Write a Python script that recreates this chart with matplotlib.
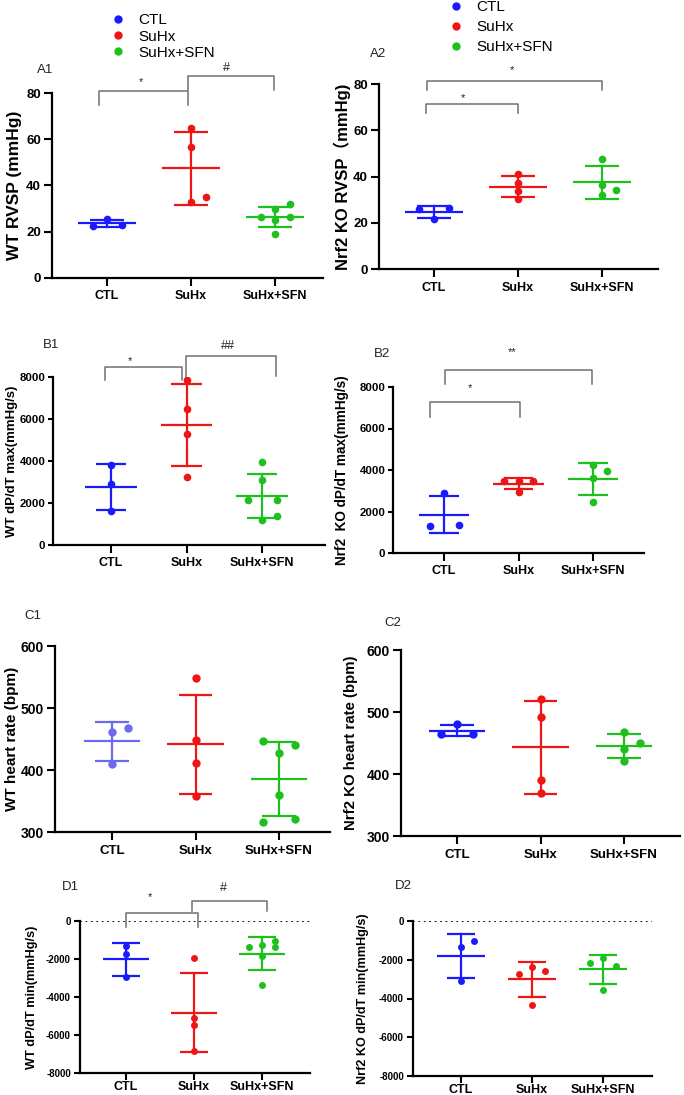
import numpy as np
import matplotlib
matplotlib.use("Agg")
import matplotlib.pyplot as plt
from matplotlib.lines import Line2D

plt.rcParams['font.family'] = ['Liberation Sans', 'Noto Sans CJK SC', 'DejaVu Sans']

# ---------------- data ----------------
groups = ["CTL", "SuHx", "SuHx+SFN"]
colors = ["#1a1aff", "#f01515", "#1ec01e"]
ctl_light = "#6b6bf0"

# A1: WT RVSP (mmHg)
a1_ctl = [22.5, 23.0, 25.5]
a1_suhx = [65.0, 56.5, 33.0, 35.0]
a1_sfn = [25.0, 26.5, 26.5, 29.8, 19.0, 31.8]
# A2: Nrf2 KO RVSP
a2_ctl = [21.8, 25.9, 26.2]
a2_suhx = [41.2, 37.2, 33.9, 30.3]
a2_sfn = [47.6, 36.2, 31.9, 34.0]
# B1: WT dP/dT max
b1_ctl = [3794, 2905, 1603]
b1_suhx = [7841, 6476, 5302, 3238]
b1_sfn = [3937, 3111, 2127, 2127, 1206, 1397]
# B2: Nrf2 KO dP/dT max
b2_ctl = [2880, 1312, 1344]
b2_suhx = [3472, 3472, 3472, 2960]
b2_sfn = [4240, 3936, 3632, 2480]
# C1: WT heart rate
c1_ctl = [460.5, 468.5, 410.0]
c1_suhx = [548.0, 449.0, 411.0, 358.5]
c1_sfn = [446.0, 441.0, 428.0, 360.0, 315.6, 321.5]
# C2: Nrf2 KO heart rate
c2_ctl = [479.9, 464.3, 465.3]
c2_suhx = [520.8, 491.7, 390.0, 369.5]
c2_sfn = [467.0, 450.8, 440.0, 421.7]
# D1: WT dP/dT min
d1_ctl = [-1301, -1741, -2971]
d1_suhx = [-1934, -5099, -5451, -6857]
d1_sfn = [-1266, -1354, -1389, -1037, -1846, -3376]
# D2: Nrf2 KO dP/dT min
d2_ctl = [-1015, -1325, -3080]
d2_suhx = [-2357, -2753, -2581, -4353]
d2_sfn = [-2185, -2323, -1892, -3561]

# significance brackets: (x0, x1, y_top, y_leg_left, y_leg_right, label, label_x, label_y)
a1_sig = [(-0.10, 0.96, 80.9, 75.0, 75.0, "*", 0.41, 84.8),
          (0.96, 1.99, 87.4, 81.4, 81.4, "#", 1.42, 91.0)]
a2_sig = [(-0.08, 2.00, 81.4, 77.6, 77.6, "*", 0.93, 86.0),
          (-0.09, 1.00, 71.5, 67.5, 67.5, "*", 0.34, 74.0)]
b1_sig = [(-0.08, 0.94, 8476, 7841, 7841, "*", 0.25, 8778),
          (0.99, 2.18, 8984, 7900, 8063, "##", 1.55, 9492)]
b2_sig = [(0.01, 1.99, 8800, 8160, 8160, "**", 0.91, 9680),
          (-0.19, 1.02, 7280, 6560, 6560, "*", 0.35, 7968)]
d1_sig = [(0.00, 1.06, 440, -299, -299, "*", 0.35, 1283),
          (0.97, 2.08, 1072, 527, 527, "#", 1.44, 1723)]

# ---------------- layout ----------------
W, H = 684, 1095
fig = plt.figure(figsize=(W / 100, H / 100), dpi=100)


def px_axes(L, R, T, B):
    return fig.add_axes([L / W, 1 - B / H, (R - L) / W, (B - T) / H])


def swarm(ax, vals, step_px, thr_px, clus_px):
    vals = np.asarray(vals, float)
    n = len(vals)
    ypx = np.array([ax.transData.transform((0, v))[1] for v in vals])
    ux = ax.transData.transform((1, 0))[0] - ax.transData.transform((0, 0))[0]
    s = step_px / ux
    order = sorted(range(n), key=lambda i: (ypx[i], i))
    clusters = []
    for i in order:
        if clusters and abs(ypx[i] - ypx[clusters[-1][-1]]) < clus_px:
            clusters[-1].append(i)
        else:
            clusters.append([i])
    off = np.zeros(n)
    placed = []
    for cl in clusters:
        cl = sorted(cl)
        k = len(cl)
        if k == 1:
            i = cl[0]
            for c in [0, 1, -1, 2, -2]:
                if all(not (pc == c and abs(ypx[i] - py) < thr_px) for pc, py in placed):
                    break
            off[i] = c * s
            placed.append((c, ypx[i]))
        else:
            if k % 2:
                pat = [0] + [m * sg for m in range(1, k) for sg in (-1, 1)]
            else:
                pat = [m * sg for m in range(1, k) for sg in (-1, 1)]
            for i, c in zip(cl, pat):
                off[i] = c * s
                placed.append((c, ypx[i]))
    return off


def panel(box, xlim, ylim, yticks, series, ylabel, ylab_x, tag, tag_xy,
          fs_tick_y, fs_tick_x, fs_ylab, msize, sig=None, zero_line=False,
          cols=None, xpad=3, ticklen=6, ylen=6):
    L, R, T, B = box
    ax = px_axes(L, R, T, B)
    ax.set_xlim(*xlim)
    ax.set_ylim(*ylim)
    for sp in ["top", "right"]:
        ax.spines[sp].set_visible(False)
    for sp in ["left", "bottom"]:
        ax.spines[sp].set_linewidth(1.6)
    ax.set_xticks(range(3))
    ax.set_xticklabels(groups, fontweight="bold", fontsize=fs_tick_x)
    ax.set_yticks(yticks)
    ax.set_yticklabels([f"{t:g}" for t in yticks], fontweight="bold", fontsize=fs_tick_y)
    ax.tick_params(axis="x", length=ticklen, width=1.5, direction="out", pad=xpad)
    ax.tick_params(axis="y", length=ylen, width=1.5, direction="out", pad=2)
    ax.set_ylabel(ylabel, fontweight="bold", fontsize=fs_ylab)
    ax.yaxis.label.set_va("center")
    ax.yaxis.set_label_coords((ylab_x - L) / (R - L), 0.5)
    cols = cols or colors
    dpx = msize * 100 / 72
    for gi, vals in enumerate(series):
        vals = np.asarray(vals, float)
        m = vals.mean()
        sd = vals.std(ddof=1)
        c = cols[gi]
        ax.plot([gi - 0.34, gi + 0.34], [m, m], color=c, lw=1.6, zorder=3,
                solid_capstyle="butt")
        ax.plot([gi, gi], [m - sd, m + sd], color=c, lw=1.6, zorder=3)
        for yy in (m - sd, m + sd):
            ax.plot([gi - 0.2, gi + 0.2], [yy, yy], color=c, lw=1.6, zorder=3,
                    solid_capstyle="butt")
        off = swarm(ax, vals, dpx * 1.9, dpx * 0.95, 4.0)
        ax.plot(gi + off, vals, "o", color=c, ms=msize, mec="none", zorder=4)
    if zero_line:
        ax.axhline(0, color="black", lw=1.3, ls=(0, (1, 2)), zorder=1)
    if sig:
        for x0, x1, yt, yl, yr, lab, lx, ly in sig:
            ax.plot([x0, x0, x1, x1], [yl, yt, yt, yr], color="#707070", lw=1.1,
                    clip_on=False, zorder=2)
            ax.text(lx, ly, lab, ha="center", va="center",
                    fontsize=9 if "#" in lab else 8, color="#222222", clip_on=False)
    fig.text(tag_xy[0] / W, 1 - tag_xy[1] / H, tag, ha="center", va="center",
             fontsize=9.5, color="#222222")
    return ax


# A row
panel((52, 323, 93, 278), (-0.655, 2.571), (0, 80), [0, 20, 40, 60, 80],
      [a1_ctl, a1_suhx, a1_sfn], "WT RVSP (mmHg)", 15, "A1", (45, 70),
      9.5, 9, 12.5, 5.5, sig=a1_sig)
panel((379, 658, 84, 269), (-0.655, 2.667), (0, 80), [0, 20, 40, 60, 80],
      [a2_ctl, a2_suhx, a2_sfn], "Nrf2 KO RVSP（mmHg)", 342, "A2", (378, 54),
      9.5, 9, 12, 5.5, sig=a2_sig)
# B row
panel((53, 325, 377, 545), (-0.768, 2.834), (0, 8000), [0, 2000, 4000, 6000, 8000],
      [b1_ctl, b1_suhx, b1_sfn], "WT dP/dT max(mmHg/s)", 12, "B1", (51, 345),
      8.2, 9, 9.5, 5.5, sig=b1_sig, ylen=3.5)
panel((393, 644, 387, 553), (-0.685, 2.685), (0, 8000), [0, 2000, 4000, 6000, 8000],
      [b2_ctl, b2_suhx, b2_sfn], "Nrf2  KO dP/dT max(mmHg/s)", 342, "B2", (382, 354),
      8.2, 9, 9.8, 5.5, sig=b2_sig, ylen=3.5)
# C row
panel((55, 330, 646, 832), (-0.683, 2.611), (300, 600), [300, 400, 500, 600],
      [c1_ctl, c1_suhx, c1_sfn], "WT heart rate (bpm)", 12, "C1", (33, 616),
      10, 9.5, 11, 6, cols=[ctl_light, colors[1], colors[2]])
panel((401, 680, 650, 836), (-0.671, 2.671), (300, 600), [300, 400, 500, 600],
      [c2_ctl, c2_suhx, c2_sfn], "Nrf2 KO heart rate (bpm)", 351, "C2", (393, 623),
      10, 9.5, 10.8, 6)
# D row
panel((80, 310, 921, 1073), (-0.676, 2.706), (-8000, 0), [-8000, -6000, -4000, -2000, 0],
      [d1_ctl, d1_suhx, d1_sfn], "WT dP/dT min(mmHg/s)", 32, "D1", (70, 887),
      7, 9, 9.2, 5, sig=d1_sig, zero_line=True, xpad=1, ticklen=5, ylen=4.5)
panel((413, 652, 921, 1076), (-0.676, 2.69), (-8000, 0), [-8000, -6000, -4000, -2000, 0],
      [d2_ctl, d2_suhx, d2_sfn], "Nrf2 KO dP/dT min(mmHg/s)", 363, "D2", (403, 886),
      7, 9, 9.1, 5, zero_line=True, xpad=1, ticklen=5, ylen=4.5)

# legends
handles = [Line2D([], [], ls="none", marker="o", color=c, ms=6, mec="none") for c in colors]
fig.legend(handles, groups, loc="center left", bbox_to_anchor=(110 / W, 1 - 36.5 / H),
           frameon=False, fontsize=11, handlelength=1.0, handletextpad=0.85,
           labelspacing=0.15, borderpad=0, borderaxespad=0)
fig.legend(handles, groups, loc="center left", bbox_to_anchor=(448 / W, 1 - 27 / H),
           frameon=False, fontsize=11, handlelength=1.0, handletextpad=0.85,
           labelspacing=0.4, borderpad=0, borderaxespad=0)

fig.savefig("out.png", dpi=100, facecolor="white")
